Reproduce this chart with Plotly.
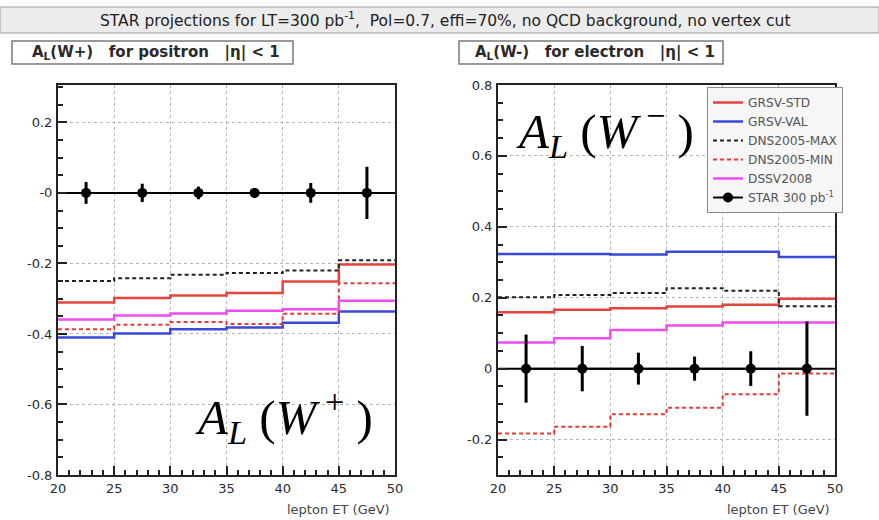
import plotly.graph_objects as go

# Lepton ET binning (GeV)
bin_edges = [20, 25, 30, 35, 40, 45, 50]
bin_centers = [22.5, 27.5, 32.5, 37.5, 42.5, 47.5]
bin_half = [2.5, 2.5, 2.5, 2.5, 2.5, 2.5]

# A_L(W+) predictions, positron |eta| < 1
wp_grsv_std = [-0.311, -0.298, -0.291, -0.284, -0.251, -0.203]
wp_grsv_val = [-0.410, -0.399, -0.387, -0.382, -0.368, -0.336]
wp_dns_max = [-0.250, -0.242, -0.232, -0.227, -0.220, -0.191]
wp_dns_min = [-0.387, -0.374, -0.366, -0.372, -0.343, -0.256]
wp_dssv = [-0.359, -0.348, -0.342, -0.334, -0.330, -0.306]
wp_star = [0, 0, 0, 0, 0, 0]
wp_star_err = [0.031, 0.026, 0.018, 0.014, 0.028, 0.074]

# A_L(W-) predictions, electron |eta| < 1
wm_grsv_std = [0.159, 0.166, 0.170, 0.175, 0.180, 0.197]
wm_grsv_val = [0.323, 0.323, 0.322, 0.330, 0.330, 0.315]
wm_dns_max = [0.201, 0.208, 0.213, 0.227, 0.220, 0.176]
wm_dns_min = [-0.183, -0.164, -0.129, -0.110, -0.072, -0.014]
wm_dssv = [0.074, 0.086, 0.109, 0.122, 0.130, 0.130]
wm_star = [0, 0, 0, 0, 0, 0]
wm_star_err = [0.096, 0.064, 0.045, 0.034, 0.049, 0.133]

left_yticks = [-0.8, -0.6, -0.4, -0.2, 0, 0.2]
left_ytext = ["-0.8", "-0.6", "-0.4", "-0.2", "-0", "0.2"]
right_yticks = [-0.2, 0, 0.2, 0.4, 0.6, 0.8]
right_ytext = ["-0.2", "0", "0.2", "0.4", "0.6", "0.8"]
x_ticks = [20, 25, 30, 35, 40, 45, 50]

W, H = 879, 520
SANS = "DejaVu Sans"

styles = [
    ("GRSV-STD", dict(color="#e5453f", width=2.5, dash="solid")),
    ("GRSV-VAL", dict(color="#3a4ad6", width=2.5, dash="solid")),
    ("DNS2005-MAX", dict(color="#222222", width=2, dash="4px,3px")),
    ("DNS2005-MIN", dict(color="#e53a3a", width=2, dash="4px,3px")),
    ("DSSV2008", dict(color="#ec4ef0", width=2.5, dash="solid")),
]

fig = go.Figure()


def step_trace(vals, name, line, xa, ya, show):
    return go.Scatter(
        x=bin_edges, y=list(vals) + [vals[-1]], mode="lines",
        line=dict(shape="hv", **line), name=name,
        xaxis=xa, yaxis=ya, showlegend=show, legendgroup=name,
    )


for (name, line), vals in zip(styles, [wp_grsv_std, wp_grsv_val, wp_dns_max, wp_dns_min, wp_dssv]):
    fig.add_trace(step_trace(vals, name, line, "x", "y", False))
for (name, line), vals in zip(styles, [wm_grsv_std, wm_grsv_val, wm_dns_max, wm_dns_min, wm_dssv]):
    fig.add_trace(step_trace(vals, name, line, "x2", "y2", True))


def star_trace(vals, errs, xa, ya, show):
    return go.Scatter(
        x=bin_centers, y=vals, mode="lines+markers", name="STAR 300 pb<sup>-1</sup>",
        line=dict(color="black", width=2),
        marker=dict(color="black", size=10),
        error_y=dict(type="data", array=errs, color="black", thickness=3, width=0),
        error_x=dict(type="data", array=bin_half, color="black", thickness=2, width=0),
        xaxis=xa, yaxis=ya, showlegend=show,
    )


fig.add_trace(star_trace(wp_star, wp_star_err, "x", "y", False))
fig.add_trace(star_trace(wm_star, wm_star_err, "x2", "y2", True))

# plot frames in pixels
y_top, y_bot = 85, 475
left_x = (58, 395)
right_x = (498, 835)

tick_font = dict(family=SANS, size=13, color="#2a2a2a")
common_x = dict(
    range=[20, 50], tickvals=x_ticks, ticks="inside", ticklen=9, tickwidth=1.5,
    tickcolor="#222", showline=True, linecolor="#222", linewidth=2, mirror=True,
    showgrid=True, gridcolor="#b5b5b5", griddash="dot", gridwidth=1,
    zeroline=False, tickfont=tick_font, automargin=False,
    minor=dict(dtick=1, ticks="inside", ticklen=5, tickcolor="#222", showgrid=False),
    fixedrange=True,
)
common_y = dict(
    ticks="inside", ticklen=9, tickwidth=1.5, tickcolor="#222",
    showline=True, linecolor="#222", linewidth=2, mirror=True,
    showgrid=True, gridcolor="#b5b5b5", griddash="dot", gridwidth=1,
    zeroline=False, tickfont=tick_font, automargin=False,
    minor=dict(dtick=0.05, ticks="inside", ticklen=5, tickcolor="#222", showgrid=False),
    ticklabelstandoff=1, fixedrange=True,
)

fig.update_layout(
    width=W, height=H, margin=dict(l=0, r=0, t=0, b=0, autoexpand=False),
    paper_bgcolor="white", plot_bgcolor="white",
    xaxis=dict(domain=[left_x[0] / W, left_x[1] / W], anchor="y", **common_x),
    yaxis=dict(domain=[1 - y_bot / H, 1 - y_top / H], anchor="x", range=[-0.8, 0.306],
               tickvals=left_yticks, ticktext=left_ytext, **common_y),
    xaxis2=dict(domain=[right_x[0] / W, right_x[1] / W], anchor="y2", **common_x),
    yaxis2=dict(domain=[1 - y_bot / H, 1 - y_top / H], anchor="x2", range=[-0.3, 0.8],
                tickvals=right_yticks, ticktext=right_ytext, **common_y),
    legend=dict(
        x=707 / W, y=1 - 87 / H, xanchor="left", yanchor="top",
        bgcolor="#f6f6f6", bordercolor="#8a8a8a", borderwidth=1,
        font=dict(family=SANS, size=12.2, color="#555"),
        itemwidth=30, tracegroupgap=0,
    ),
    showlegend=True,
)


def paper_text(px, py, text, font, xanchor="center"):
    fig.add_annotation(xref="paper", yref="paper", x=px / W, y=1 - py / H,
                       xanchor=xanchor, yanchor="middle", text=text,
                       showarrow=False, font=font)


# header banner and panel caption boxes
fig.add_shape(type="rect", xref="paper", yref="paper", x0=0, x1=1,
              y0=1 - 33 / H, y1=1 - 7 / H, fillcolor="#ececec",
              line=dict(color="#a0a0a0", width=1), layer="below")
paper_text(445, 20,
           "STAR projections for LT=300 pb<sup>-1</sup>,&nbsp;&nbsp;Pol=0.7, effi=70%, no QCD background, no vertex cut",
           dict(family=SANS, size=15.5, color="#222"))

for (x0, x1), cx, txt in [((12, 293), 156, "A<sub>L</sub>(W+)&nbsp;&nbsp;&nbsp;for positron&nbsp;&nbsp;&nbsp;|η| &lt; 1"),
                          ((459, 723), 595, "A<sub>L</sub>(W-)&nbsp;&nbsp;&nbsp;for electron&nbsp;&nbsp;&nbsp;|η| &lt; 1")]:
    fig.add_shape(type="rect", xref="paper", yref="paper", x0=x0 / W, x1=x1 / W,
                  y0=1 - 64 / H, y1=1 - 41 / H, fillcolor="white",
                  line=dict(color="#7a7a7a", width=1.5))
    paper_text(cx, 53, txt, dict(family=SANS, size=15, color="#2a2a2a", weight="bold"))

# axis titles
for xr in (392, 832):
    paper_text(xr, 509, "lepton ET (GeV)", dict(family=SANS, size=13, color="#444"), xanchor="right")

# large asymmetry labels
big_font = dict(family="Liberation Serif", size=49, color="black")
paper_text(284, 416, "<i>A</i><sub><i>L</i></sub>&nbsp;(<i>W</i><sup>&nbsp;+</sup>&nbsp;)", big_font)
paper_text(605, 130, "<i>A</i><sub><i>L</i></sub>&nbsp;(<i>W</i><sup>&nbsp;−</sup>&nbsp;)", big_font)

fig.write_html("out.html")
